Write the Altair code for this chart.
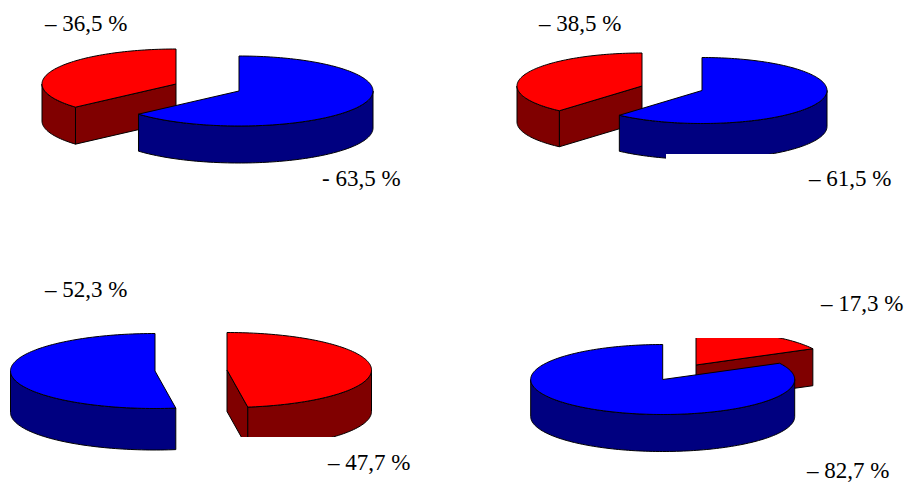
import math
import altair as alt
import pandas as pd

share_first = [63.5, 61.5, 47.7, 17.3]
tone_first = ["blue", "blue", "red", "red"]
tone_second = ["red", "red", "blue", "blue"]
# Layout of each pie: centre of first slice, centre of second slice, rx, ry, depth
centre_first = [(239, 91), (702, 90.5), (227, 370), (696, 365)]
centre_second = [(176, 84), (642, 86), (155, 371), (662.7, 379.5)]
radius_x = [134, 125, 144.5, 132]
radius_y = [35, 33, 37.5, 35]
depth = [37, 36, 41.5, 37]
# Cropped areas of the original picture (x0, x1, y0, y1)
crops = [(666, 835, 154, 170), (200, 380, 437, 455), (690, 820, 325, 338)]

label_text = ["– 36,5 %", "- 63,5 %", "– 38,5 %", "– 61,5 %",
              "– 52,3 %", "– 47,7 %", "– 17,3 %", "– 82,7 %"]
label_x = [45, 322, 539, 809, 45, 328, 821, 807]
label_y = [31, 186, 31, 186, 297, 470, 311, 478]

TOP = {"red": "#FF0000", "blue": "#0000FF"}
SIDE = {"red": "#800000", "blue": "#000080"}

rows = []
poly_no = [0]


def add(points, colour):
    pid = f"p{poly_no[0]:03d}"
    poly_no[0] += 1
    for i, (x, y) in enumerate(points):
        rows.append({"x": x, "y": y, "ord": i, "poly": pid, "colour": colour})


def pt(c, rx, ry, a, dz=0):
    r = math.radians(a)
    return (c[0] + rx * math.sin(r), c[1] - ry * math.cos(r) + dz)


def arc(c, rx, ry, a0, a1, dz=0):
    n = max(2, int(abs(a1 - a0) / 1.5))
    return [pt(c, rx, ry, a0 + (a1 - a0) * k / n, dz) for k in range(n + 1)]


def slice3d(c, rx, ry, d, a0, a1, tone):
    # cut faces that look towards the viewer
    for a, vis in ((a0, math.sin(math.radians(a0)) < -1e-6),
                   (a1, math.sin(math.radians(a1)) > 1e-6)):
        if vis:
            t = pt(c, rx, ry, a)
            face = [c, t, (t[0], t[1] + d), (c[0], c[1] + d), c]
            add(face, SIDE[tone])
    # outer wall
    lo, hi = max(a0, 90), min(a1, 270)
    if hi > lo:
        top = arc(c, rx, ry, lo, hi)
        bottom = arc(c, rx, ry, hi, lo, d)
        add(top + bottom + [top[0]], SIDE[tone])
    # top surface
    add([c] + arc(c, rx, ry, a0, a1) + [c], TOP[tone])


for i in range(4):
    cut = share_first[i] * 3.6
    rx, ry, d = radius_x[i], radius_y[i], depth[i]
    if i < 2:
        # red (second) lies behind blue (first)
        slice3d(centre_second[i], rx, ry, d, cut, 360, tone_second[i])
        slice3d(centre_first[i], rx, ry, d, 0, cut, tone_first[i])
    else:
        slice3d(centre_first[i], rx, ry, d, 0, cut, tone_first[i])
        slice3d(centre_second[i], rx, ry, d, cut, 360, tone_second[i])

df = pd.DataFrame(rows)
colours = sorted(df["colour"].unique())

W, H = 897, 475
xs = alt.Scale(domain=[8, 8 + W], range=[0, W], nice=False, zero=False)
ys = alt.Scale(domain=[8, 8 + H], range=[0, H], nice=False, zero=False)

polys = alt.Chart(df).mark_line(stroke="black", strokeWidth=1, interpolate="linear", clip=False).encode(
    x=alt.X("x:Q", scale=xs, axis=None),
    y=alt.Y("y:Q", scale=ys, axis=None),
    order=alt.Order("ord:Q"),
    detail="poly:N",
    fill=alt.Fill("colour:N", scale=alt.Scale(domain=colours, range=colours), legend=None),
)

crop_df = pd.DataFrame(crops, columns=["x0", "x1", "y0", "y1"])
patches = alt.Chart(crop_df).mark_rect(color="white").encode(
    x=alt.X("x0:Q", scale=xs, axis=None), x2="x1:Q",
    y=alt.Y("y0:Q", scale=ys, axis=None), y2="y1:Q",
)

lab_df = pd.DataFrame({"x": label_x, "y": label_y, "t": label_text})
labels = alt.Chart(lab_df).mark_text(
    font="Liberation Serif", fontSize=23, align="left", baseline="alphabetic", color="black"
).encode(
    x=alt.X("x:Q", scale=xs, axis=None),
    y=alt.Y("y:Q", scale=ys, axis=None),
    text="t:N",
)

chart = (polys + patches + labels).properties(
    width=W, height=H, padding=0, autosize=alt.AutoSizeParams(type="none")
).configure_view(stroke=None)

chart.save("out.html", embed_options={"renderer": "svg", "actions": False})
